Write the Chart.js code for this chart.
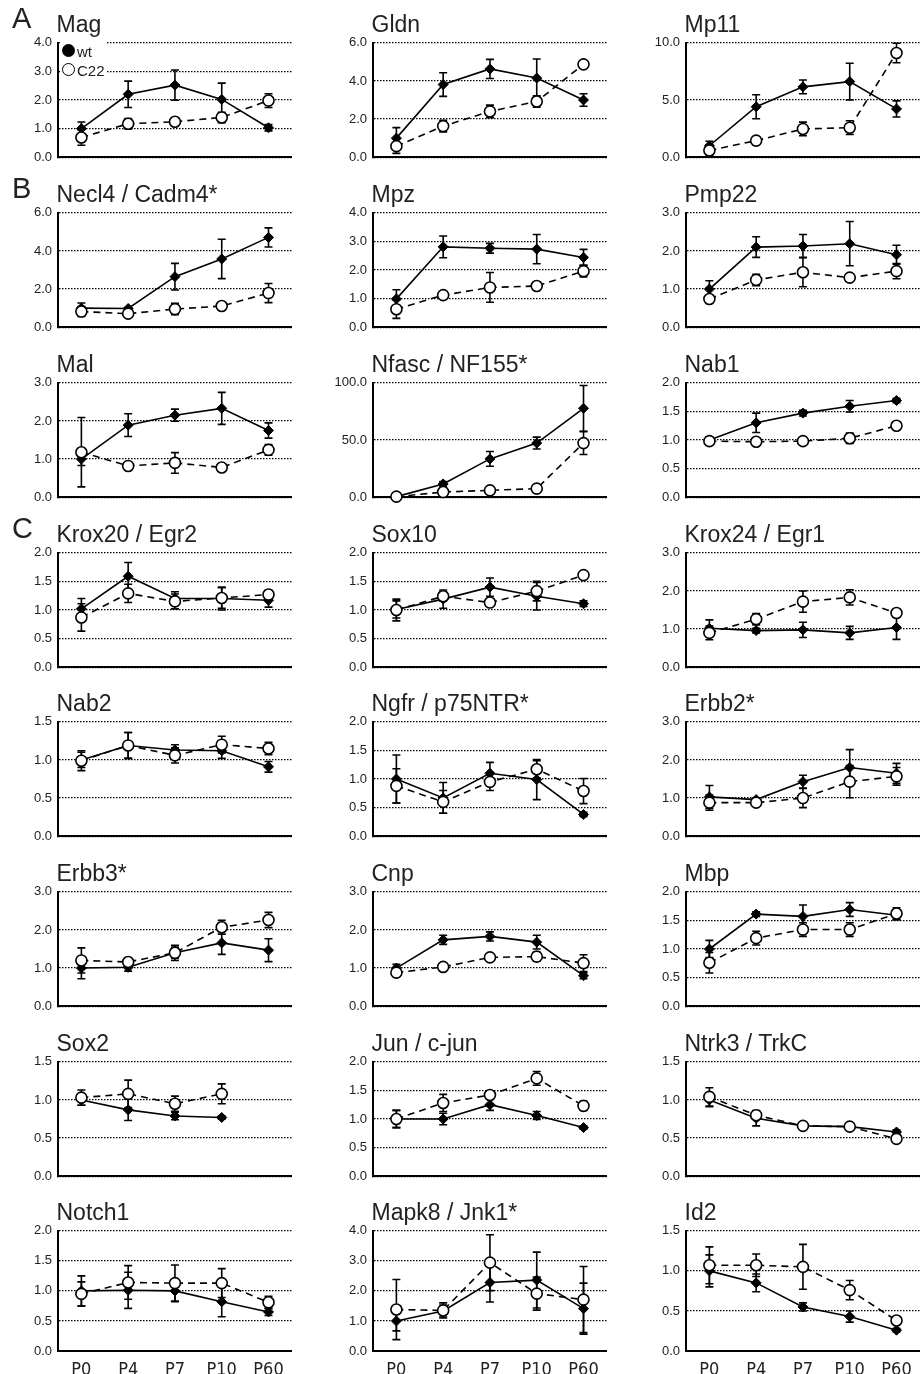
<!DOCTYPE html>
<html><head><meta charset="utf-8">
<script src="https://cdn.jsdelivr.net/npm/chart.js@4.4.0/dist/chart.umd.min.js"></script>
<style>
html,body{margin:0;padding:0;background:#fff;}
body{width:920px;height:1374px;position:relative;overflow:hidden;font-family:"Liberation Sans",Arial,sans-serif;}
canvas{position:absolute;}
.title{position:absolute;font-size:23px;line-height:23px;color:#222;white-space:nowrap;}
.letter{position:absolute;font-size:29px;line-height:29px;color:#222;}
.legend{position:absolute;background:#fff;}
.legend .dot{position:absolute;width:13px;height:13px;border-radius:50%;box-sizing:border-box;}
.legend .lab{position:absolute;font-size:15px;line-height:15px;color:#222;}
</style></head><body>
<script>
// ---------- data ----------
const categories = ['P0', 'P4', 'P7', 'P10', 'P60'];

const magWt = [1.0, 2.2, 2.52, 2.02, 1.03];
const magWtErr = [0.23, 0.46, 0.53, 0.57, 0.11];
const magC22 = [0.69, 1.17, 1.24, 1.39, 1.98];
const magC22Err = [0.27, 0.18, 0.13, 0.18, 0.24];

const gldnWt = [1.0, 3.81, 4.63, 4.15, 3.0];
const gldnWtErr = [0.55, 0.62, 0.5, 1.0, 0.33];
const gldnC22 = [0.58, 1.63, 2.4, 2.92, 4.87];
const gldnC22Err = [0.38, 0.3, 0.33, 0.3, 0.1];

const mp11Wt = [1.0, 4.41, 6.15, 6.61, 4.22];
const mp11WtErr = [0.4, 1.05, 0.6, 1.6, 0.7];
const mp11C22 = [0.59, 1.45, 2.47, 2.58, 9.11];
const mp11C22Err = [0.5, 0.35, 0.6, 0.6, 0.85];

const necl4Wt = [1.0, 0.98, 2.65, 3.58, 4.71];
const necl4WtErr = [0.27, 0.05, 0.7, 1.03, 0.5];
const necl4C22 = [0.82, 0.71, 0.95, 1.11, 1.79];
const necl4C22Err = [0.26, 0.05, 0.3, 0.06, 0.5];

const mpzWt = [0.99, 2.81, 2.76, 2.73, 2.44];
const mpzWtErr = [0.32, 0.38, 0.17, 0.51, 0.28];
const mpzC22 = [0.63, 1.12, 1.39, 1.44, 1.96];
const mpzC22Err = [0.32, 0.1, 0.52, 0.1, 0.2];

const pmp22Wt = [1.0, 2.1, 2.13, 2.19, 1.9];
const pmp22WtErr = [0.22, 0.27, 0.3, 0.58, 0.25];
const pmp22C22 = [0.74, 1.24, 1.44, 1.3, 1.47];
const pmp22C22Err = [0.05, 0.15, 0.38, 0.05, 0.2];

const malWt = [1.0, 1.89, 2.15, 2.33, 1.75];
const malWtErr = [0.17, 0.3, 0.16, 0.42, 0.2];
const malC22 = [1.18, 0.82, 0.9, 0.78, 1.24];
const malC22Err = [0.91, 0.07, 0.27, 0.05, 0.14];

const nfascWt = [0.5, 11.6, 33.5, 47.3, 77.7];
const nfascWtErr = [0.5, 2, 6.5, 5.2, 20];
const nfascC22 = [0.5, 4.5, 6, 7.5, 47.3];
const nfascC22Err = [0.3, 1.5, 1, 1, 10];

const nab1Wt = [1.0, 1.3, 1.47, 1.59, 1.69];
const nab1WtErr = [0.05, 0.17, 0.05, 0.1, 0.04];
const nab1C22 = [0.98, 0.97, 0.98, 1.03, 1.25];
const nab1C22Err = [0.07, 0.03, 0.05, 0.09, 0.02];

const krox20Wt = [1.02, 1.59, 1.2, 1.2, 1.17];
const krox20WtErr = [0.18, 0.24, 0.12, 0.2, 0.12];
const krox20C22 = [0.87, 1.29, 1.15, 1.21, 1.27];
const krox20C22Err = [0.24, 0.16, 0.13, 0.18, 0.07];

const sox10Wt = [1.01, 1.19, 1.4, 1.24, 1.11];
const sox10WtErr = [0.15, 0.16, 0.16, 0.24, 0.05];
const sox10C22 = [1.0, 1.24, 1.13, 1.33, 1.61];
const sox10C22Err = [0.19, 0.08, 0.06, 0.17, 0.03];

const krox24Wt = [1.02, 0.96, 0.98, 0.9, 1.04];
const krox24WtErr = [0.22, 0.06, 0.2, 0.17, 0.31];
const krox24C22 = [0.9, 1.26, 1.72, 1.83, 1.42];
const krox24C22Err = [0.18, 0.15, 0.28, 0.2, 0.1];

const nab2Wt = [1.0, 1.19, 1.13, 1.12, 0.91];
const nab2WtErr = [0.1, 0.17, 0.07, 0.1, 0.07];
const nab2C22 = [0.99, 1.19, 1.06, 1.2, 1.15];
const nab2C22Err = [0.13, 0.17, 0.1, 0.11, 0.08];

const ngfrWt = [1.0, 0.67, 1.1, 0.99, 0.38];
const ngfrWtErr = [0.42, 0.27, 0.19, 0.35, 0.04];
const ngfrC22 = [0.88, 0.6, 0.95, 1.17, 0.79];
const ngfrC22Err = [0.3, 0.2, 0.15, 0.15, 0.22];

const erbb2Wt = [1.03, 0.96, 1.43, 1.8, 1.65];
const erbb2WtErr = [0.3, 0.05, 0.17, 0.47, 0.26];
const erbb2C22 = [0.88, 0.88, 1.0, 1.43, 1.57];
const erbb2C22Err = [0.2, 0.05, 0.25, 0.42, 0.23];

const erbb3Wt = [1.0, 1.02, 1.4, 1.66, 1.47];
const erbb3WtErr = [0.28, 0.1, 0.15, 0.3, 0.3];
const erbb3C22 = [1.2, 1.16, 1.4, 2.07, 2.26];
const erbb3C22Err = [0.33, 0.05, 0.2, 0.18, 0.2];

const cnpWt = [1.0, 1.74, 1.83, 1.68, 0.8];
const cnpWtErr = [0.1, 0.12, 0.12, 0.18, 0.08];
const cnpC22 = [0.88, 1.03, 1.28, 1.3, 1.13];
const cnpC22Err = [0.1, 0.08, 0.05, 0.12, 0.22];

const mbpWt = [1.0, 1.61, 1.57, 1.69, 1.59];
const mbpWtErr = [0.15, 0.04, 0.2, 0.12, 0.08];
const mbpC22 = [0.76, 1.19, 1.34, 1.34, 1.62];
const mbpC22Err = [0.18, 0.12, 0.12, 0.12, 0.1];

const sox2Wt = [1.0, 0.87, 0.79, 0.77, null];
const sox2WtErr = [0.07, 0.14, 0.05, 0.02, null];
const sox2C22 = [1.03, 1.08, 0.95, 1.08, null];
const sox2C22Err = [0.1, 0.18, 0.1, 0.13, null];

const junWt = [1.0, 1.0, 1.25, 1.06, 0.85];
const junWtErr = [0.15, 0.1, 0.1, 0.07, 0.03];
const junC22 = [1.0, 1.28, 1.42, 1.71, 1.23];
const junC22Err = [0.15, 0.15, 0.05, 0.12, 0.08];

const ntrk3Wt = [1.0, 0.76, 0.66, 0.65, 0.58];
const ntrk3WtErr = [0.09, 0.1, 0.03, 0.03, 0.03];
const ntrk3C22 = [1.04, 0.8, 0.66, 0.65, 0.49];
const ntrk3C22Err = [0.12, 0.05, 0.03, 0.03, 0.03];

const notch1Wt = [1.0, 1.01, 1.0, 0.82, 0.65];
const notch1WtErr = [0.25, 0.3, 0.18, 0.25, 0.06];
const notch1C22 = [0.95, 1.14, 1.13, 1.13, 0.81];
const notch1C22Err = [0.2, 0.28, 0.3, 0.24, 0.1];

const mapk8Wt = [1.0, 1.33, 2.28, 2.36, 1.41];
const mapk8WtErr = [0.33, 0.2, 0.65, 0.93, 0.85];
const mapk8C22 = [1.38, 1.35, 2.94, 1.91, 1.71];
const mapk8C22Err = [1.0, 0.25, 0.93, 0.55, 1.1];

const id2Wt = [1.0, 0.85, 0.55, 0.43, 0.26];
const id2WtErr = [0.2, 0.11, 0.05, 0.07, 0.02];
const id2C22 = [1.07, 1.07, 1.05, 0.76, 0.38];
const id2C22Err = [0.23, 0.14, 0.28, 0.12, 0.03];

const panels = [
  {title: 'Mag', max: 4, step: 1, wt: magWt, wtErr: magWtErr, c22: magC22, c22Err: magC22Err},
  {title: 'Gldn', max: 6, step: 2, wt: gldnWt, wtErr: gldnWtErr, c22: gldnC22, c22Err: gldnC22Err},
  {title: 'Mp11', max: 10, step: 5, wt: mp11Wt, wtErr: mp11WtErr, c22: mp11C22, c22Err: mp11C22Err},
  {title: 'Necl4 / Cadm4*', max: 6, step: 2, wt: necl4Wt, wtErr: necl4WtErr, c22: necl4C22, c22Err: necl4C22Err},
  {title: 'Mpz', max: 4, step: 1, wt: mpzWt, wtErr: mpzWtErr, c22: mpzC22, c22Err: mpzC22Err},
  {title: 'Pmp22', max: 3, step: 1, wt: pmp22Wt, wtErr: pmp22WtErr, c22: pmp22C22, c22Err: pmp22C22Err},
  {title: 'Mal', max: 3, step: 1, wt: malWt, wtErr: malWtErr, c22: malC22, c22Err: malC22Err},
  {title: 'Nfasc / NF155*', max: 100, step: 50, wt: nfascWt, wtErr: nfascWtErr, c22: nfascC22, c22Err: nfascC22Err},
  {title: 'Nab1', max: 2, step: 0.5, wt: nab1Wt, wtErr: nab1WtErr, c22: nab1C22, c22Err: nab1C22Err},
  {title: 'Krox20 / Egr2', max: 2, step: 0.5, wt: krox20Wt, wtErr: krox20WtErr, c22: krox20C22, c22Err: krox20C22Err},
  {title: 'Sox10', max: 2, step: 0.5, wt: sox10Wt, wtErr: sox10WtErr, c22: sox10C22, c22Err: sox10C22Err},
  {title: 'Krox24 / Egr1', max: 3, step: 1, wt: krox24Wt, wtErr: krox24WtErr, c22: krox24C22, c22Err: krox24C22Err},
  {title: 'Nab2', max: 1.5, step: 0.5, wt: nab2Wt, wtErr: nab2WtErr, c22: nab2C22, c22Err: nab2C22Err},
  {title: 'Ngfr / p75NTR*', max: 2, step: 0.5, wt: ngfrWt, wtErr: ngfrWtErr, c22: ngfrC22, c22Err: ngfrC22Err},
  {title: 'Erbb2*', max: 3, step: 1, wt: erbb2Wt, wtErr: erbb2WtErr, c22: erbb2C22, c22Err: erbb2C22Err},
  {title: 'Erbb3*', max: 3, step: 1, wt: erbb3Wt, wtErr: erbb3WtErr, c22: erbb3C22, c22Err: erbb3C22Err},
  {title: 'Cnp', max: 3, step: 1, wt: cnpWt, wtErr: cnpWtErr, c22: cnpC22, c22Err: cnpC22Err},
  {title: 'Mbp', max: 2, step: 0.5, wt: mbpWt, wtErr: mbpWtErr, c22: mbpC22, c22Err: mbpC22Err},
  {title: 'Sox2', max: 1.5, step: 0.5, wt: sox2Wt, wtErr: sox2WtErr, c22: sox2C22, c22Err: sox2C22Err},
  {title: 'Jun / c-jun', max: 2, step: 0.5, wt: junWt, wtErr: junWtErr, c22: junC22, c22Err: junC22Err},
  {title: 'Ntrk3 / TrkC', max: 1.5, step: 0.5, wt: ntrk3Wt, wtErr: ntrk3WtErr, c22: ntrk3C22, c22Err: ntrk3C22Err},
  {title: 'Notch1', max: 2, step: 0.5, wt: notch1Wt, wtErr: notch1WtErr, c22: notch1C22, c22Err: notch1C22Err},
  {title: 'Mapk8 / Jnk1*', max: 4, step: 1, wt: mapk8Wt, wtErr: mapk8WtErr, c22: mapk8C22, c22Err: mapk8C22Err},
  {title: 'Id2', max: 1.5, step: 0.5, wt: id2Wt, wtErr: id2WtErr, c22: id2C22, c22Err: id2C22Err}
];

const sectionLetters = [{row: 0, text: 'A'}, {row: 1, text: 'B'}, {row: 3, text: 'C'}];

// ---------- layout ----------
const COL_X = [58, 373, 686];
const ROW_T = [39, 209, 379, 549, 718, 888, 1058, 1227];
const PLOT_W = 235, PLOT_H = 124, Y_W = 52, PAD_T = 10, PAD_R = 6;

const errorBars = {
  id: 'errorBars',
  beforeDatasetsDraw(chart) {
    const ctx = chart.ctx, ys = chart.scales.y;
    chart.data.datasets.forEach((ds, di) => {
      const meta = chart.getDatasetMeta(di);
      ds.data.forEach((v, i) => {
        const e = ds.errors[i];
        if (v == null || e == null) return;
        const x = meta.data[i].x;
        const y1 = ys.getPixelForValue(v + e), y2 = ys.getPixelForValue(v - e);
        ctx.save();
        ctx.strokeStyle = '#000';
        ctx.lineWidth = 1.6;
        ctx.setLineDash([]);
        ctx.beginPath();
        ctx.moveTo(x, y1); ctx.lineTo(x, y2);
        ctx.moveTo(x - 4, y1); ctx.lineTo(x + 4, y1);
        ctx.moveTo(x - 4, y2); ctx.lineTo(x + 4, y2);
        ctx.stroke();
        ctx.restore();
      });
    });
  }
};

function addDiv(cls, text, left, top) {
  const d = document.createElement('div');
  d.className = cls; d.textContent = text;
  d.style.left = left + 'px'; d.style.top = top + 'px';
  document.body.appendChild(d);
  return d;
}

panels.forEach((p, idx) => {
  const col = idx % 3, row = Math.floor(idx / 3);
  const ax = COL_X[col], T = ROW_T[row];
  const last = row === ROW_T.length - 1;
  const xH = last ? 25 : 0, padB = last ? 2 : 8;
  const W = Y_W + PLOT_W + PAD_R, H = PAD_T + PLOT_H + xH + padB;
  const cv = document.createElement('canvas');
  cv.width = W; cv.height = H;
  cv.style.left = (ax - Y_W) + 'px'; cv.style.top = (T - PAD_T) + 'px';
  cv.style.width = W + 'px'; cv.style.height = H + 'px';
  document.body.appendChild(cv);

  addDiv('title', p.title, ax - 1.5, T - 7 - 19.5);

  new Chart(cv.getContext('2d'), {
    type: 'line',
    data: {
      labels: categories,
      datasets: [
        {label: 'C22', data: p.c22, errors: p.c22Err, order: 0, borderColor: '#000', borderWidth: 1.6,
         borderDash: [7, 5], pointStyle: 'circle', pointRadius: 5.5, pointBackgroundColor: '#fff',
         pointBorderColor: '#000', pointBorderWidth: 1.6, fill: false, tension: 0, clip: false, spanGaps: false},
        {label: 'wt', data: p.wt, errors: p.wtErr, order: 1, borderColor: '#000', borderWidth: 1.6,
         pointStyle: 'rectRot', pointRadius: 5, pointBackgroundColor: '#000', pointBorderColor: '#000',
         pointBorderWidth: 1, fill: false, tension: 0, clip: false, spanGaps: false}
      ]
    },
    options: {
      responsive: false, animation: false, events: [],
      layout: {padding: {left: 0, top: PAD_T, right: PAD_R, bottom: padB}},
      plugins: {legend: {display: false}, tooltip: {enabled: false}},
      scales: {
        x: {
          type: 'category', offset: true,
          grid: {display: false, drawTicks: false},
          border: {display: true, color: '#000', width: 2},
          ticks: {display: last, color: '#222', padding: 9, maxRotation: 0, autoSkip: false,
                  font: {family: '"Liberation Sans Narrow", "DejaVu Sans Condensed", "Liberation Sans", sans-serif', size: 18}},
          afterFit: s => { s.height = xH; }
        },
        y: {
          min: 0, max: p.max,
          ticks: {stepSize: p.step, padding: 6, color: '#222', callback: v => Number(v).toFixed(1),
                  font: {family: '"Liberation Sans", Arial, sans-serif', size: 13}},
          grid: {color: '#000', lineWidth: 1.2, drawTicks: false},
          border: {display: true, color: '#000', width: 2, dash: [1.5, 1.5]},
          afterFit: s => { s.width = Y_W; }
        }
      }
    },
    plugins: [errorBars]
  });
});

sectionLetters.forEach(l => addDiv('letter', l.text, 12, ROW_T[l.row] - 11 - 24.5));

// legend (first panel)
const lg = document.createElement('div');
lg.className = 'legend';
lg.style.left = '60px'; lg.style.top = '42px'; lg.style.width = '47px'; lg.style.height = '38px';
lg.innerHTML =
  '<div class="dot" style="left:2px;top:2px;background:#000;"></div>' +
  '<div class="lab" style="left:17px;top:2px;">wt</div>' +
  '<div class="dot" style="left:2px;top:21px;background:#fff;border:1.8px solid #000;"></div>' +
  '<div class="lab" style="left:17px;top:21px;">C22</div>';
document.body.appendChild(lg);
</script>
</body></html>
